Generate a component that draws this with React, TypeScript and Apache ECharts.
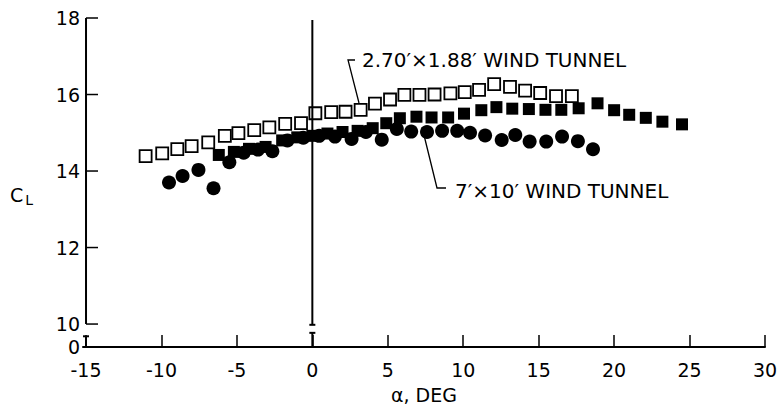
import { useEffect, useRef } from "react";
import * as echarts from "echarts";

// Angle of attack (deg) and lift coefficient, 2.70' x 1.88' tunnel (open squares)
const alphaSmallTunnel = [
  -11.05, -9.95, -8.95, -8.0, -6.9, -5.8, -4.9, -3.85, -2.85, -1.8, -0.75, 0.2, 1.25, 2.2, 3.2,
  4.15, 5.15, 6.1, 7.1, 8.1, 9.15, 10.1, 11.05, 12.05, 13.1, 14.1, 15.1, 16.15, 17.2,
];
const clSmallTunnel = [
  14.39, 14.46, 14.57, 14.65, 14.75, 14.92, 14.99, 15.07, 15.14, 15.23, 15.25, 15.51, 15.54, 15.55,
  15.6, 15.76, 15.87, 15.99, 15.99, 16.0, 16.03, 16.06, 16.12, 16.27, 16.2, 16.1, 16.04, 15.96, 15.96,
];

// 7' x 10' tunnel, filled squares
const alphaLargeSquares = [
  -6.2, -5.2, -4.2, -3.1, -2.0, -1.0, 0.0, 1.0, 2.0, 3.0, 4.0, 4.9, 5.8, 6.9, 7.9, 9.0, 10.05,
  11.2, 12.2, 13.25, 14.35, 15.45, 16.5, 17.65, 18.9, 20.0, 21.0, 22.1, 23.2, 24.5,
];
const clLargeSquares = [
  14.42, 14.5, 14.58, 14.63, 14.8, 14.88, 14.92, 14.98, 15.02, 15.05, 15.12, 15.25, 15.38, 15.42,
  15.4, 15.4, 15.5, 15.59, 15.67, 15.63, 15.62, 15.6, 15.6, 15.64, 15.77, 15.59, 15.47, 15.39,
  15.29, 15.22,
];

// 7' x 10' tunnel, filled circles
const alphaLargeCircles = [
  -9.5, -8.6, -7.55, -6.55, -5.5, -4.55, -3.6, -2.65, -1.65, -0.6, 0.45, 1.5, 2.6, 3.55, 4.6, 5.6,
  6.55, 7.6, 8.6, 9.6, 10.45, 11.45, 12.55, 13.45, 14.4, 15.5, 16.55, 17.6, 18.6,
];
const clLargeCircles = [
  13.7, 13.87, 14.03, 13.55, 14.23, 14.48, 14.56, 14.52, 14.8, 14.87, 14.92, 14.9, 14.84, 15.02,
  14.82, 15.1, 15.03, 15.02, 15.05, 15.05, 15.0, 14.93, 14.81, 14.94, 14.77, 14.77, 14.9, 14.78, 14.57,
];

// Axis values
const alphaTicks = [-15, -10, -5, 0, 5, 10, 15, 20, 25, 30];
const alphaFrame = -15; // position of the left frame line
const alphaAxisStart = -15.2; // x axis begins just left of the frame
const alphaMax = 30;
const clTicks = [10, 12, 14, 16, 18];
const clFloor = 9.4; // broken axis: the bottom of the frame is labelled 0
const clBreakLeft = 9.68;
const clBreakZero = 9.77;
const clZeroLineBottom = 9.98;
const clZeroLineTop = 17.95;

// Frame segments as [alpha, clFrom, clTo]
const frameSegments = [
  [alphaFrame, 10, 18],
  [alphaFrame, clFloor, clBreakLeft],
  [0, clZeroLineBottom, clZeroLineTop],
  [0, clFloor, clBreakZero],
];
// Small horizontal caps at the break ends, [alpha, cl]
const breakCaps = [
  [alphaFrame, clBreakLeft],
  [0, clZeroLineBottom],
  [0, clBreakZero],
];

const FONT = '"DejaVu Sans", "Liberation Sans", sans-serif';
const INK = "#000";

const zip = (xs: number[], ys: number[]) => xs.map((x, i) => [x, ys[i]]);

export default function App() {
  const ref = useRef<HTMLDivElement>(null);

  useEffect(() => {
    if (!ref.current) return;
    const chart = echarts.init(ref.current, null, { renderer: "svg" });

    chart.setOption({
      animation: false,
      backgroundColor: "#fff",
      grid: {
        left: 83,
        right: 17,
        top: 18,
        bottom: 67,
        containLabel: false,
        outerBoundsMode: "none",
      },
      xAxis: {
        type: "value",
        min: alphaAxisStart,
        max: alphaMax,
        axisLine: { show: true, onZero: false, lineStyle: { color: INK, width: 2 } },
        axisTick: {
          show: true,
          inside: true,
          length: 12,
          customValues: alphaTicks,
          lineStyle: { color: INK, width: 1.5 },
        },
        axisLabel: {
          color: INK,
          fontFamily: FONT,
          fontSize: 19,
          margin: 13,
          customValues: alphaTicks,
          formatter: (v: number) => String(Math.round(v)),
        },
        splitLine: { show: false },
        name: "α, DEG",
        nameLocation: "middle",
        nameGap: 38,
        nameTextStyle: { color: INK, fontFamily: FONT, fontSize: 19 },
      },
      yAxis: {
        type: "value",
        min: clFloor,
        max: 18,
        axisLine: { show: false, onZero: false },
        axisTick: { show: false },
        axisLabel: {
          color: INK,
          fontFamily: FONT,
          fontSize: 19,
          margin: 3,
          customValues: [clFloor, ...clTicks],
          formatter: (v: number) => (v < 9.9 ? "0" : String(Math.round(v))),
        },
        splitLine: { show: false },
      },
      series: [
        // left frame, zero-incidence line and their broken stubs
        {
          type: "custom",
          silent: true,
          clip: false,
          z: 20,
          data: frameSegments,
          encode: { x: 0, y: [1, 2] },
          renderItem: (_params: any, api: any) => {
            const a = api.coord([api.value(0), api.value(1)]);
            const b = api.coord([api.value(0), api.value(2)]);
            return {
              type: "line",
              shape: { x1: a[0], y1: a[1], x2: b[0], y2: b[1] },
              style: { stroke: INK, lineWidth: 2 },
            };
          },
        },
        // lift-coefficient ticks pointing into the plot from the frame
        {
          type: "custom",
          silent: true,
          clip: false,
          z: 20,
          data: clTicks.map((t) => [alphaFrame, t]),
          renderItem: (_params: any, api: any) => {
            const p = api.coord([api.value(0), api.value(1)]);
            return {
              type: "line",
              shape: { x1: p[0], y1: p[1], x2: p[0] + 12, y2: p[1] },
              style: { stroke: INK, lineWidth: 1.5 },
            };
          },
        },
        // caps at the ends of the break stubs
        {
          type: "custom",
          silent: true,
          clip: false,
          z: 20,
          data: breakCaps,
          renderItem: (_params: any, api: any) => {
            const p = api.coord([api.value(0), api.value(1)]);
            return {
              type: "line",
              shape: { x1: p[0] - 3, y1: p[1], x2: p[0] + 3, y2: p[1] },
              style: { stroke: INK, lineWidth: 2 },
            };
          },
        },
        {
          name: "7x10 squares",
          type: "scatter",
          symbol: "rect",
          symbolSize: 12,
          itemStyle: { color: INK, opacity: 1 },
          data: zip(alphaLargeSquares, clLargeSquares),
          z: 3,
        },
        {
          name: "7x10 circles",
          type: "scatter",
          symbol: "circle",
          symbolSize: 14,
          itemStyle: { color: INK, opacity: 1 },
          data: zip(alphaLargeCircles, clLargeCircles),
          z: 4,
        },
        {
          name: "2.70x1.88",
          type: "scatter",
          symbol: "rect",
          symbolSize: 12,
          itemStyle: { color: "#fff", borderColor: INK, borderWidth: 1.8, opacity: 1 },
          data: zip(alphaSmallTunnel, clSmallTunnel),
          z: 5,
        },
      ],
      graphic: [
        {
          type: "text",
          x: 10,
          y: 195,
          style: {
            text: "{c|C}{s|L}",
            verticalAlign: "middle",
            rich: {
              c: { font: `19px ${FONT}`, fill: INK, color: INK },
              s: { font: `14px ${FONT}`, fill: INK, color: INK, padding: [10, 0, 0, 2] },
            },
          },
        },
        {
          type: "polyline",
          shape: {
            points: [
              [355, 60],
              [348, 60],
              [359, 103],
            ],
          },
          style: { stroke: INK, lineWidth: 1.3, fill: null },
        },
        {
          type: "text",
          x: 362,
          y: 60,
          style: {
            text: "2.70′×1.88′ WIND TUNNEL",
            font: `20px ${FONT}`,
            fill: INK,
            verticalAlign: "middle",
          },
        },
        {
          type: "polyline",
          shape: {
            points: [
              [422, 127],
              [437, 188],
              [446, 188],
            ],
          },
          style: { stroke: INK, lineWidth: 1.3, fill: null },
        },
        {
          type: "text",
          x: 455,
          y: 191,
          style: {
            text: "7′×10′ WIND TUNNEL",
            font: `20px ${FONT}`,
            fill: INK,
            verticalAlign: "middle",
          },
        },
      ],
    });

    return () => chart.dispose();
  }, []);

  return (
    <div
      ref={ref}
      style={{ width: 782, height: 414, position: "fixed", left: 0, top: 0, background: "#fff" }}
    />
  );
}
